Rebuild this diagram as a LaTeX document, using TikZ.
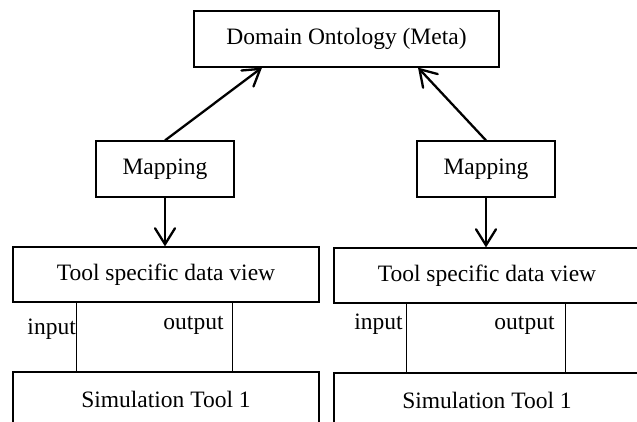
\documentclass[tikz,border=0pt]{standalone}
\usepackage{fontspec}
\setmainfont{Liberation Serif}
\usetikzlibrary{arrows.meta,calc}
\begin{document}
\begin{tikzpicture}[x=1pt,y=-1pt,
  box/.style={draw,line width=1.2pt,inner sep=0pt,align=center,
    font=\fontsize{23.5}{28}\selectfont},
  lbl/.style={inner sep=0pt,font=\fontsize{23.5}{28}\selectfont},
  arr/.style={line width=2.3pt,-{Straight Barb[length=16pt,width=20pt,line cap=round]}},
  link/.style={line width=1.2pt}]
\clip (0,0) rectangle (637,422);
\fill[white] (0,0) rectangle (637,422);

% shared ontology and the two mapping layers
\node[box,minimum width=305,minimum height=56] (onto) at (346.5,39) {Domain Ontology (Meta)};
\node[box,minimum width=138,minimum height=56] (mapL) at (165,169) {Mapping};
\node[box,minimum width=138,minimum height=56] (mapR) at (486,169) {Mapping};

% tool-side data views and simulators
\node[box,minimum width=306,minimum height=55] (datL) at (166,274.5) {Tool specific data view};
\node[box,minimum width=306,minimum height=55] (datR) at (487,275.5) {Tool specific data view};
\node[box,minimum width=306,minimum height=55] (simL) at (166,399.5) {Simulation Tool 1};
\node[box,minimum width=306,minimum height=55] (simR) at (487,400.5) {Simulation Tool 1};

% mapping <-> ontology
\draw[arr] (mapL.north) -- ($(onto.south)+(-84.5,0)$);
\draw[arr] (mapR.north) -- ($(onto.south)+(71.5,0)$);
\draw[arr] (mapL.south) -- (mapL.south |- datL.north);
\draw[arr] (mapR.south) -- (mapR.south |- datR.north);

% input / output channels
\draw[link] ($(datL.south west)+(64,0)$) -- ($(simL.north west)+(64,0)$);
\draw[link] ($(datL.south west)+(220,0)$) -- ($(simL.north west)+(220,0)$);
\draw[link] ($(datR.south west)+(73,0)$) -- ($(simR.north west)+(73,0)$);
\draw[link] ($(datR.south west)+(232,0)$) -- ($(simR.north west)+(232,0)$);

\node[lbl,anchor=base east] (inL) at (76,334) {input};
\node[lbl,anchor=base] (outL) at (193.5,329) {output};
\node[lbl,anchor=base] (inR) at (378.5,329) {input};
\node[lbl,anchor=base] (outR) at (524.5,329) {output};
\end{tikzpicture}
\end{document}
